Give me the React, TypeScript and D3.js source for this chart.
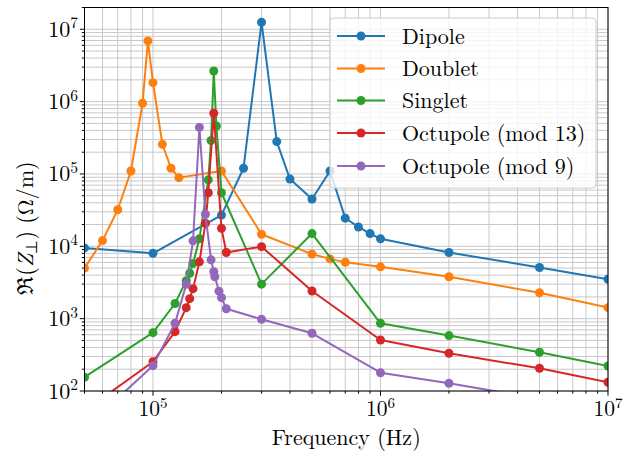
import React from "react";
import * as d3 from "d3";

// Transverse impedance vs frequency for several kicker configurations
const seriesNames = ["Dipole", "Doublet", "Singlet", "Octupole (mod 13)", "Octupole (mod 9)"];
const seriesColors = ["#1f77b4", "#ff7f0e", "#2ca02c", "#d62728", "#9467bd"];

const dipoleFreq = [5e4, 1e5, 2e5, 2.5e5, 3e5, 3.5e5, 4e5, 5e5, 6e5, 7e5, 8e5, 9e5, 1e6, 2e6, 5e6, 1e7];
const dipoleZ = [9.5e3, 8e3, 2.7e4, 1.2e5, 1.25e7, 2.8e5, 8.5e4, 4.5e4, 1.1e5, 2.45e4, 1.85e4, 1.5e4, 1.27e4, 8.2e3, 5.1e3, 3.5e3];

const doubletFreq = [5e4, 6e4, 7e4, 8e4, 9e4, 9.5e4, 1e5, 1.1e5, 1.2e5, 1.3e5, 2e5, 3e5, 5e5, 6e5, 7e5, 1e6, 2e6, 5e6, 1e7];
const doubletZ = [5e3, 1.2e4, 3.2e4, 1.1e5, 9.5e5, 6.9e6, 1.83e6, 2.57e5, 1.2e5, 8.9e4, 1.1e5, 1.47e4, 7.8e3, 6.7e3, 6.0e3, 5.2e3, 3.8e3, 2.28e3, 1.42e3];

const singletFreq = [5e4, 1e5, 1.25e5, 1.4e5, 1.45e5, 1.5e5, 1.6e5, 1.75e5, 1.8e5, 1.85e5, 1.9e5, 2e5, 3e5, 5e5, 1e6, 2e6, 5e6, 1e7];
const singletZ = [155, 640, 1.62e3, 3.35e3, 4.25e3, 5.8e3, 1.27e4, 8.3e4, 2.9e5, 2.65e6, 4.6e5, 5.5e4, 3.0e3, 1.5e4, 863, 583, 343, 222];

const oct13Freq = [5e4, 1e5, 1.25e5, 1.4e5, 1.45e5, 1.5e5, 1.6e5, 1.7e5, 1.75e5, 1.85e5, 2e5, 2.1e5, 3e5, 5e5, 1e6, 2e6, 5e6, 1e7];
const oct13Z = [53, 254, 661, 1.42e3, 1.89e3, 2.6e3, 6.1e3, 2.08e4, 5.5e4, 6.9e5, 1.77e4, 8.2e3, 9.9e3, 2.41e3, 507, 332, 206, 132];

const oct9Freq = [5e4, 1e5, 1.25e5, 1.4e5, 1.5e5, 1.6e5, 1.7e5, 1.8e5, 1.85e5, 1.87e5, 1.95e5, 2e5, 2.1e5, 3e5, 5e5, 1e6, 2e6, 5e6, 1e7];
const oct9Z = [30, 224, 863, 2.98e3, 1.19e4, 4.4e5, 2.77e4, 6.5e3, 4.45e3, 3.8e3, 2.4e3, 1.95e3, 1.37e3, 980, 628, 179, 128, 78, 50];

const xMajorExps = [5, 6, 7];
const yMajorExps = [2, 3, 4, 5, 6, 7];

const W = 625;
const H = 452;
const plot = { left: 84.5, right: 608, top: 7.5, bottom: 391 };
const FONT = '"Latin Modern Roman", "Liberation Serif", serif';

export default function App() {
  const x = d3.scaleLog().domain([5e4, 1e7]).range([plot.left, plot.right]);
  const y = d3.scaleLog().domain([1e2, 2e7]).range([plot.bottom, plot.top]);

  const freqs = [dipoleFreq, doubletFreq, singletFreq, oct13Freq, oct9Freq];
  const vals = [dipoleZ, doubletZ, singletZ, oct13Z, oct9Z];
  const series = seriesNames.map((name, i) => ({
    name,
    color: seriesColors[i],
    pts: freqs[i].map((f, j) => [f, vals[i][j]] as [number, number]),
  }));

  const line = d3
    .line<[number, number]>()
    .x((d) => x(d[0]))
    .y((d) => y(d[1]));

  // minor & major tick values in each decade
  const xTicksAll: number[] = [];
  for (let e = 4; e <= 6; e++) for (let m = 1; m <= 9; m++) {
    const v = m * Math.pow(10, e);
    if (v >= 5e4 && v <= 1e7) xTicksAll.push(v);
  }
  xTicksAll.push(1e7);
  const yTicksAll: number[] = [];
  for (let e = 2; e <= 7; e++) for (let m = 1; m <= 9; m++) {
    const v = m * Math.pow(10, e);
    if (v >= 1e2 && v <= 2e7) yTicksAll.push(v);
  }
  const isMajor = (v: number) => Math.abs(Math.log10(v) - Math.round(Math.log10(v))) < 1e-9;

  const gridColor = "#c8c8c8";
  const legend = { x: 330, y: 18, w: 266, h: 170 };
  const rowY = [36, 68.5, 100.5, 133, 166];
  const txt = { fontFamily: FONT };

  return (
    <svg width={W} height={H} style={{ position: "absolute", left: 0, top: 0, background: "#fff" }}>
      <defs>
        <clipPath id="plotClip">
          <rect x={plot.left} y={plot.top} width={plot.right - plot.left} height={plot.bottom - plot.top} />
        </clipPath>
      </defs>
      <rect x={0} y={0} width={W} height={H} fill="#fff" />
      {/* grid */}
      <g stroke={gridColor} strokeWidth={1}>
        {xTicksAll.map((v) => (
          <line key={"gx" + v} x1={x(v)} x2={x(v)} y1={plot.top} y2={plot.bottom} />
        ))}
        {yTicksAll.map((v) => (
          <line key={"gy" + v} x1={plot.left} x2={plot.right} y1={y(v)} y2={y(v)} />
        ))}
      </g>
      {/* data */}
      <g clipPath="url(#plotClip)">
        {series.map((s) => (
          <g key={s.name}>
            <path d={line(s.pts) || ""} fill="none" stroke={s.color} strokeWidth={2} strokeLinejoin="round" />
            {s.pts.map((p, j) => (
              <circle key={j} cx={x(p[0])} cy={y(p[1])} r={4.5} fill={s.color} />
            ))}
          </g>
        ))}
      </g>
      {/* spines */}
      <rect x={plot.left} y={plot.top} width={plot.right - plot.left} height={plot.bottom - plot.top} fill="none" stroke="#000" strokeWidth={1} />
      {/* ticks */}
      <g stroke="#000" strokeWidth={1}>
        {xTicksAll.map((v) => (
          <line key={"tx" + v} x1={x(v)} x2={x(v)} y1={plot.bottom} y2={plot.bottom + (isMajor(v) ? 4.7 : 2.7)} />
        ))}
        {yTicksAll.map((v) => (
          <line key={"ty" + v} x1={plot.left} x2={plot.left - (isMajor(v) ? 4.7 : 2.7)} y1={y(v)} y2={y(v)} />
        ))}
      </g>
      {/* tick labels */}
      <g fill="#000">
        {xMajorExps.map((e) => (
          <text key={"lx" + e} style={txt} x={x(Math.pow(10, e))} y={416} textAnchor="middle" fontSize={21.5}>
            10<tspan dy={-8.5} fontSize={15}>{e}</tspan>
          </text>
        ))}
        {yMajorExps.map((e) => (
          <text key={"ly" + e} style={txt} x={78} y={y(Math.pow(10, e)) + 7.5} textAnchor="end" fontSize={22}>
            10<tspan dy={-8.5} fontSize={15.5}>{e}</tspan>
          </text>
        ))}
      </g>
      {/* axis labels */}
      <text style={txt} x={(plot.left + plot.right) / 2} y={445} textAnchor="middle" fontSize={22}>
        Frequency (Hz)
      </text>
      <text style={txt} transform={`translate(33,228) rotate(-90)`} textAnchor="middle" fontSize={22}>
        ℜ(<tspan fontStyle="italic">Z</tspan>
        <tspan dy={4} fontSize={15.5}>⊥</tspan>
        <tspan dy={-4}>) (Ω/m)</tspan>
      </text>
      {/* legend */}
      <rect x={legend.x} y={legend.y} width={legend.w} height={legend.h} rx={4} fill="#fff" fillOpacity={0.8} stroke="#cccccc" strokeWidth={1} />
      {series.map((s, i) => (
        <g key={"lg" + i}>
          <line x1={337} x2={385} y1={rowY[i]} y2={rowY[i]} stroke={s.color} strokeWidth={2} />
          <circle cx={361} cy={rowY[i]} r={4.5} fill={s.color} />
          <text style={txt} x={402} y={rowY[i] + 7.5} fontSize={22} fill="#000">
            {s.name}
          </text>
        </g>
      ))}
    </svg>
  );
}
